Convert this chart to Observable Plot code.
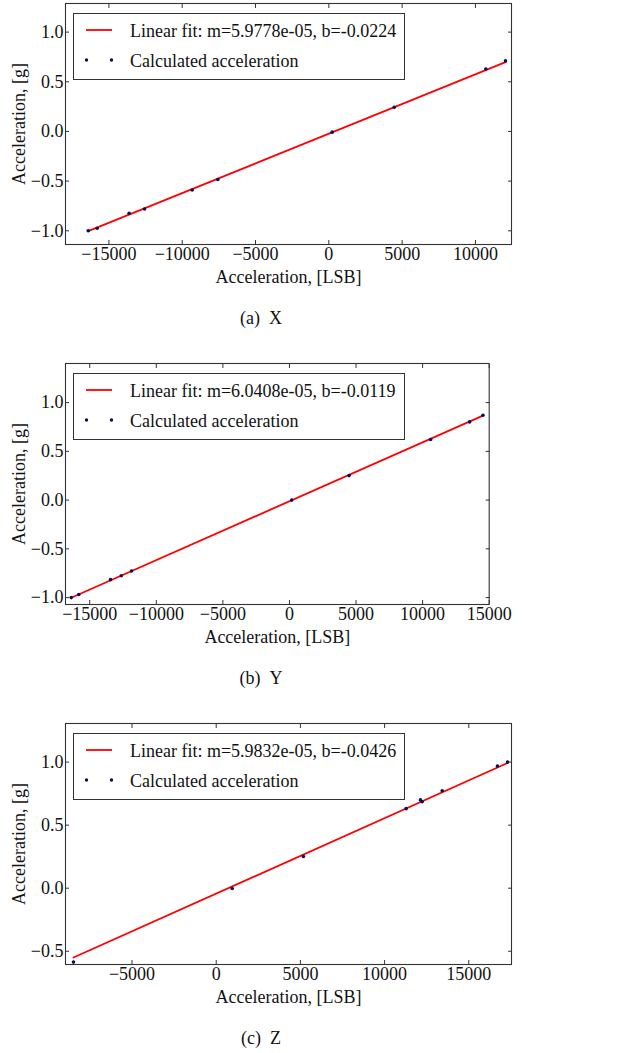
<!DOCTYPE html>
<html><head><meta charset="utf-8">
<script src="https://cdn.jsdelivr.net/npm/d3@7"></script>
<script src="https://cdn.jsdelivr.net/npm/@observablehq/plot@0.6"></script>
<style>
body{margin:0;background:#fff;font-family:"Liberation Serif","Times New Roman",serif;}
.panel{position:relative;width:626px;height:360px;overflow:hidden;}
.panel svg{position:absolute;left:0;top:0;}
.legend{position:absolute;box-sizing:border-box;border:1px solid #333;background:#fff;font-size:18px;color:#111;}
.legend svg{position:absolute;left:0;top:0;}
.legend .t{position:absolute;white-space:nowrap;line-height:1;}
.caption{position:absolute;font-size:18px;transform:translate(-50%,-50%);white-space:nowrap;color:#111;}
</style></head><body><div id="fig"></div><script>
// ---- data ----
const panelNames = ["X", "Y", "Z"];
const captions = ["(a)\u2002X", "(b)\u2002Y", "(c)\u2002Z"];
const xLabel = "Acceleration, [LSB]";
const yLabel = "Acceleration, [g]";
const legendPoints = "Calculated acceleration";

const lsbX = [-16410, -15800, -13620, -12570, -9320, -7570, 230, 4460, 10710, 12050];
const gX   = [-1.0, -0.975, -0.824, -0.781, -0.590, -0.483, -0.007, 0.244, 0.629, 0.710];
const lsbY = [-16390, -15820, -13440, -12630, -11860, 170, 4480, 10600, 13530, 14530];
const gY   = [-1.0, -0.969, -0.816, -0.776, -0.728, 0.0, 0.251, 0.622, 0.802, 0.870];
const lsbZ = [-8475, 950, 5180, 11280, 12130, 12230, 13420, 16700, 17300];
const gZ   = [-0.586, -0.002, 0.251, 0.631, 0.700, 0.686, 0.773, 0.969, 1.0];

const fitM = [5.9778e-05, 6.0408e-05, 5.9832e-05];
const fitB = [-0.0224, -0.0119, -0.0426];
const fitLabels = ["Linear fit: m=5.9778e-05, b=-0.0224", "Linear fit: m=6.0408e-05, b=-0.0119", "Linear fit: m=5.9832e-05, b=-0.0426"];

const xTicks = [
  [-15000, -10000, -5000, 0, 5000, 10000],
  [-15000, -10000, -5000, 0, 5000, 10000, 15000],
  [-5000, 0, 5000, 10000, 15000]
];
const yTicks = [
  [-1.0, -0.5, 0.0, 0.5, 1.0],
  [-1.0, -0.5, 0.0, 0.5, 1.0],
  [-0.5, 0.0, 0.5, 1.0]
];
const xDomains = [[-17960, 12460], [-16820, 15000], [-8950, 17536]];
const yDomains = [[-1.138, 1.288], [-1.071, 1.401], [-0.605, 1.306]];

const lsbs = [lsbX, lsbY, lsbZ];
const gs = [gX, gY, gZ];
const marginRights = [115, 137.3, 115];

// ---- draw ----
const fig = document.getElementById("fig");
const fmtY = d3.format(".1f");
const fmtX = d3.format("d");
const minus = s => s.replace("-", "\u2212");
const FONT = "'Liberation Serif', 'Times New Roman', serif";

panelNames.forEach((name, i) => {
  const pts = lsbs[i].map((v, k) => ({lsb: v, g: gs[i][k]}));
  const [x0, x1] = d3.extent(lsbs[i]);
  const fit = [x0, x1].map(v => ({lsb: v, g: fitM[i] * v + fitB[i]}));

  const plot = Plot.plot({
    width: 626,
    height: 300,
    marginTop: 3,
    marginBottom: 56,
    marginLeft: 65,
    marginRight: marginRights[i],
    style: {fontFamily: FONT, fontSize: "18px", color: "#111", background: "transparent"},
    x: {domain: xDomains[i]},
    y: {domain: yDomains[i]},
    marks: [
      Plot.line(fit, {x: "lsb", y: "g", stroke: "#ff0000", strokeWidth: 1.8}),
      Plot.dot(pts, {x: "lsb", y: "g", r: 1.8, fill: "#0b0b5a", stroke: "none"}),
      Plot.axisX({anchor: "bottom", ticks: xTicks[i], tickSize: -4, tickPadding: 7, tickFormat: d => minus(fmtX(d)), label: null, stroke: "#333"}),
      Plot.axisX({anchor: "top", ticks: xTicks[i], tickSize: -4, tickFormat: () => "", label: null, stroke: "#333"}),
      Plot.axisY({anchor: "left", ticks: yTicks[i], tickSize: -4, tickPadding: 6, tickFormat: d => fmtY(d), label: null, stroke: "#333"}),
      Plot.axisY({anchor: "right", ticks: yTicks[i], tickSize: -4, tickFormat: () => "", label: null, stroke: "#333"}),
      Plot.frame({stroke: "#333", strokeWidth: 1.1}),
      Plot.text([xLabel], {frameAnchor: "bottom", lineAnchor: "middle", dy: 33, text: d => d, fill: "#111"}),
      Plot.text([yLabel], {frameAnchor: "left", textAnchor: "middle", lineAnchor: "middle", dx: -46, rotate: -90, text: d => d, fill: "#111"})
    ]
  });

  const div = document.createElement("div");
  div.className = "panel";
  div.appendChild(plot);

  // legend
  const lg = document.createElement("div");
  lg.className = "legend";
  Object.assign(lg.style, {left: "73px", top: "13px", width: "332px", height: "67px"});
  const ns = "http://www.w3.org/2000/svg";
  const s = document.createElementNS(ns, "svg");
  s.setAttribute("width", 330); s.setAttribute("height", 65);
  const ln = document.createElementNS(ns, "line");
  ln.setAttribute("x1", 12); ln.setAttribute("x2", 38); ln.setAttribute("y1", 16); ln.setAttribute("y2", 16);
  ln.setAttribute("stroke", "#ff0000"); ln.setAttribute("stroke-width", 1.8);
  s.appendChild(ln);
  [12.5, 37.5].forEach(cx => {
    const c = document.createElementNS(ns, "circle");
    c.setAttribute("cx", cx); c.setAttribute("cy", 46); c.setAttribute("r", 1.7); c.setAttribute("fill", "#0b0b5a");
    s.appendChild(c);
  });
  lg.appendChild(s);
  [[fitLabels[i], 8], [legendPoints, 38]].forEach(([t, top]) => {
    const e = document.createElement("div");
    e.className = "t"; e.textContent = t;
    Object.assign(e.style, {left: "56px", top: top + "px"});
    lg.appendChild(e);
  });
  div.appendChild(lg);

  const cap = document.createElement("div");
  cap.className = "caption";
  cap.textContent = captions[i];
  Object.assign(cap.style, {left: "261px", top: "318px"});
  div.appendChild(cap);

  fig.appendChild(div);
});
</script></body></html>
